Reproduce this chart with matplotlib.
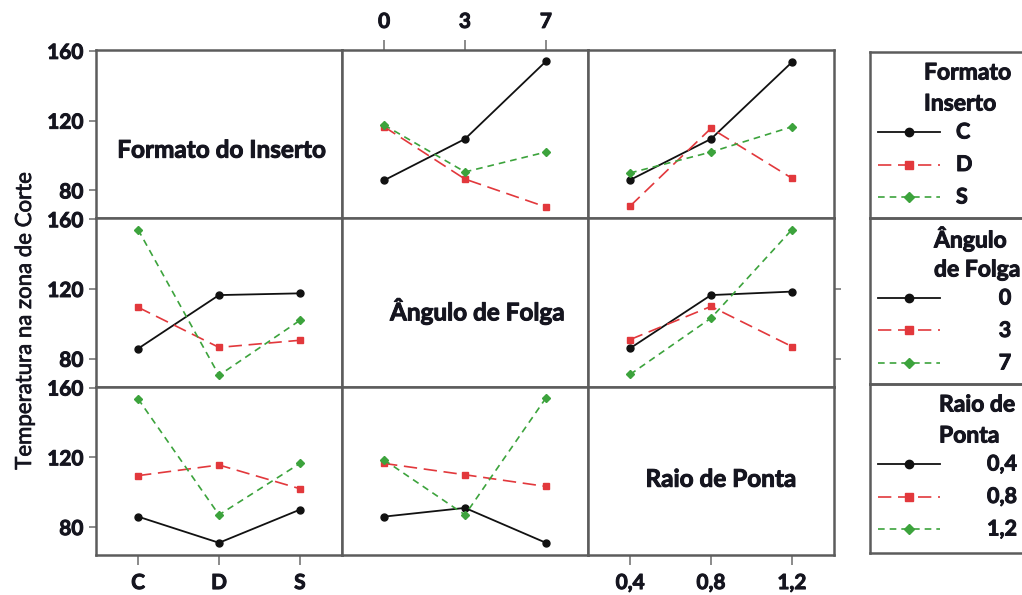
import matplotlib
matplotlib.use("Agg")
import matplotlib.pyplot as plt
import matplotlib.patheffects as pe
from matplotlib.lines import Line2D

plt.rcParams['font.family'] = ['Lato', 'DejaVu Sans']

# Factor levels
formato = ['C', 'D', 'S']
angulo = ['0', '3', '7']
raio = ['0,4', '0,8', '1,2']

# Mean cutting-zone temperature for each pair of factors
# rows: first factor level, columns: second factor level
formato_x_angulo = [[85.8, 109.5, 154.0],
                    [116.5, 86.5, 70.5],
                    [117.5, 90.6, 102.0]]
formato_x_raio = [[86.0, 109.5, 153.5],
                  [71.0, 115.6, 87.0],
                  [90.0, 102.0, 116.5]]
angulo_x_raio = [[86.0, 116.5, 118.5],
                 [91.0, 110.0, 87.0],
                 [71.0, 103.3, 154.0]]

y_ticks = [80, 120, 160]
factor_names = ['Formato do Inserto', 'Ângulo de Folga', 'Raio de Ponta']
legend_titles = ['Formato\nInserto', 'Ângulo\nde Folga', 'Raio de\nPonta']
levels = [formato, angulo, raio]


def transpose(m):
    return [list(r) for r in zip(*m)]


pair = {
    (0, 1): formato_x_angulo, (1, 0): transpose(formato_x_angulo),
    (0, 2): formato_x_raio, (2, 0): transpose(formato_x_raio),
    (1, 2): angulo_x_raio, (2, 1): transpose(angulo_x_raio),
}

TEXT = '#15151f'
FRAME = '#5c5c5c'
HEAVY = [pe.withStroke(linewidth=0.7, foreground=TEXT)]
styles = [
    dict(color='#111111', marker='o', ms=5, lw=1.3, ls='-'),
    dict(color='#e2383c', marker='s', ms=5, lw=1.2, ls=(0, (8, 4))),
    dict(color='#3ca33c', marker='D', ms=4.5, lw=1.2, ls=(0, (4, 3))),
]

W, H = 1022, 595
fig = plt.figure(figsize=(W / 100, H / 100), dpi=100)
fig.patch.set_facecolor('white')

left, top, bottom = 96, 50, 555
cw = 246
rh = (bottom - top) / 3

title_pos = [(0.51, 0.405), (0.55, 0.45), (0.54, 0.45)]


def heavy(labels):
    for t in labels:
        t.set_path_effects(HEAVY)


for r in range(3):
    for c in range(3):
        x0 = left + c * cw
        y0 = top + r * rh
        ax = fig.add_axes([x0 / W, 1 - (y0 + rh) / H, cw / W, rh / H])
        ax.set_xlim(-0.52, 2.52)
        ax.set_ylim(64, 160.5)
        for s in ax.spines.values():
            s.set_color(FRAME)
            s.set_linewidth(1.8)
        ax.tick_params(length=5, width=1.2, color='#777777', labelsize=15,
                       labelcolor=TEXT, pad=4)
        if r == c:
            ax.text(*title_pos[r], factor_names[r], transform=ax.transAxes,
                    ha='center', va='center', fontsize=17.5, fontweight='bold',
                    color=TEXT, path_effects=HEAVY)
        else:
            data = pair[(r, c)]
            for k, vals in enumerate(data):
                ax.plot(range(3), vals, **styles[k])
        # y axis labels on the first column
        if c == 0:
            ax.set_yticks(y_ticks)
            heavy(ax.set_yticklabels([str(v) for v in y_ticks], fontweight='bold'))
        elif r == 1 and c == 2:
            ax.yaxis.tick_right()
            ax.set_yticks(y_ticks[:2])
            ax.set_yticklabels([])
        else:
            ax.set_yticks([])
        # x axis labels alternate bottom / top
        if r == 2 and c in (0, 2):
            ax.set_xticks(range(3))
            heavy(ax.set_xticklabels(levels[c], fontweight='bold'))
            ax.tick_params(axis='x', length=7, pad=6)
        elif r == 0 and c == 1:
            ax.xaxis.tick_top()
            ax.set_xticks(range(3))
            heavy(ax.set_xticklabels(levels[c], fontweight='bold'))
            ax.tick_params(axis='x', length=7, pad=6)
        else:
            ax.set_xticks([])

fig.text(25 / W, 1 - 320 / H, 'Temperatura na zona de Corte', rotation=90,
         ha='center', va='center', fontsize=16, color=TEXT,
         path_effects=[pe.withStroke(linewidth=0.5, foreground=TEXT)])

# Legend boxes, one per factor
box_edges = [(52, 218), (218, 384), (384, 553)]
label_x = [956, 1005, 987]
label_ha = ['left', 'center', 'left']
title_x = [924, 934, 939]
for i, (bt, bb) in enumerate(box_edges):
    bx0, bx1 = 870, 1100
    lax = fig.add_axes([bx0 / W, 1 - bb / H, (bx1 - bx0) / W, (bb - bt) / H])
    lax.set_xlim(bx0, bx1)
    lax.set_ylim(bb, bt)
    lax.set_xticks([])
    lax.set_yticks([])
    lax.patch.set_alpha(0)
    for s in lax.spines.values():
        s.set_color(FRAME)
        s.set_linewidth(1.8)
    t1, t2 = legend_titles[i].split('\n')
    lax.text(title_x[i], bt + 21, t1, ha='left', va='center', fontsize=16.5,
             fontweight='bold', color=TEXT, path_effects=HEAVY)
    lax.text(title_x[i], bt + 52, t2, ha='left', va='center', fontsize=16.5,
             fontweight='bold', color=TEXT, path_effects=HEAVY)
    for k, lab in enumerate(levels[i]):
        yy = bt + 80 + 32.5 * k
        st = styles[k]
        lax.add_line(Line2D([878, 940], [yy, yy], color=st['color'],
                            lw=st['lw'], ls=st['ls']))
        lax.add_line(Line2D([909], [yy], color=st['color'], marker=st['marker'],
                            ms=st['ms'] + 1, ls='none'))
        lax.text(label_x[i], yy, lab, ha=label_ha[i], va='center', fontsize=15.5,
                 fontweight='bold', color=TEXT, path_effects=HEAVY)

fig.savefig('out.png', dpi=100, facecolor='white')
